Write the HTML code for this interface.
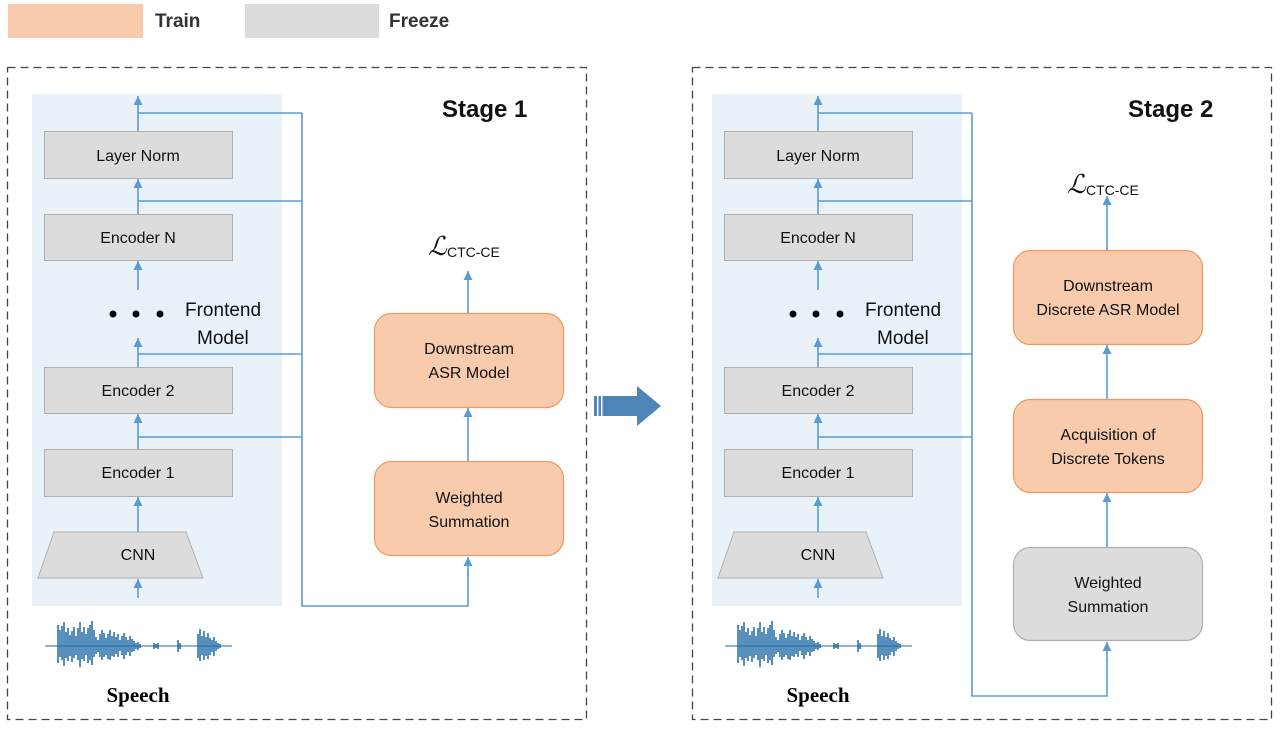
<!DOCTYPE html>
<html><head><meta charset="utf-8"><style>
body{margin:0;background:#fff;}
svg{display:block;}
text{font-family:"Liberation Sans",sans-serif;}
</style></head><body>
<svg width="1280" height="730" viewBox="0 0 1280 730" xmlns="http://www.w3.org/2000/svg">
<defs>
<marker id="ah" markerWidth="10" markerHeight="10" refX="9" refY="4.5" orient="auto" markerUnits="userSpaceOnUse">
<path d="M0,0 L9,4.5 L0,9 Z" fill="#5b9bd5"/>
</marker>
</defs>
<!-- legend -->
<rect x="8" y="4" width="135" height="34" fill="#f8cbad"/>
<text x="155" y="27" font-size="19" font-weight="bold" fill="#333">Train</text>
<rect x="245" y="4" width="134" height="34" fill="#dcdcdc"/>
<text x="389" y="27" font-size="19" font-weight="bold" fill="#333">Freeze</text>

<!-- panels -->
<rect x="7.5" y="67.5" width="579" height="652" fill="none" stroke="#444" stroke-width="1.3" stroke-dasharray="8,5"/>
<rect x="692.5" y="67.5" width="579" height="652" fill="none" stroke="#444" stroke-width="1.3" stroke-dasharray="8,5"/>

<!-- big arrow -->
<rect x="594" y="396" width="44" height="20" fill="#4f86ba"/>
<rect x="597" y="396" width="1.5" height="20" fill="#fff"/>
<rect x="601" y="396" width="1.5" height="20" fill="#fff"/>
<path d="M637,386 L661,406 L637,426 Z" fill="#4f86ba"/>

<g id="front">
<rect x="32" y="94" width="250" height="512" fill="#e9f1f9"/>
<g fill="#dcdcdc" stroke="#b0b0b0" stroke-width="1">
<rect x="44.5" y="131.5" width="188" height="47"/>
<rect x="44.5" y="214.5" width="188" height="46"/>
<rect x="44.5" y="367.5" width="188" height="46"/>
<rect x="44.5" y="449.5" width="188" height="47"/>
<path d="M54,532 L186,532 L203,578 L38,578 Z"/>
</g>
<g font-size="16" fill="#111" text-anchor="middle">
<text x="138" y="161">Layer Norm</text>
<text x="138" y="243">Encoder N</text>
<text x="138" y="396">Encoder 2</text>
<text x="138" y="478">Encoder 1</text>
<text x="138" y="560">CNN</text>
</g>
<g stroke="#5b9bd5" stroke-width="1.6" fill="none">
<line x1="138" y1="598" x2="138" y2="579" marker-end="url(#ah)"/>
<line x1="138" y1="532" x2="138" y2="497" marker-end="url(#ah)"/>
<line x1="138" y1="449" x2="138" y2="414" marker-end="url(#ah)"/>
<line x1="138" y1="367" x2="138" y2="338" marker-end="url(#ah)"/>
<line x1="138" y1="290" x2="138" y2="261" marker-end="url(#ah)"/>
<line x1="138" y1="214" x2="138" y2="179" marker-end="url(#ah)"/>
<line x1="138" y1="131" x2="138" y2="96" marker-end="url(#ah)"/>
</g>
<circle cx="113" cy="314" r="3.5" fill="#000"/><circle cx="136" cy="314" r="3.5" fill="#000"/><circle cx="160" cy="314" r="3.5" fill="#000"/>
<text x="185" y="316" font-size="19" fill="#111">Frontend</text>
<text x="197" y="344" font-size="19" fill="#111">Model</text>
<!-- waveform -->
<g stroke="#1f6aa5" stroke-width="1.5">
<line x1="45" y1="646" x2="232" y2="646" stroke-width="1"/>
<line x1="58" y1="649" x2="58" y2="651" stroke-width="1"/>
<path d="M58,625V663M60,630V657M62,626V660M64,622V666M66,632V658M68,628V661M70,635V656M72,631V662M74,627V658M76,636V655M78,628V660M80,622V667M82,632V659M84,627V661M86,634V655M88,628V663M90,625V660M92,621V665M94,630V657M96,637V654M98,640V652M100,634V657M102,630V660M104,633V657M106,638V655M108,634V659M110,630V660M112,636V656M114,632V657M116,637V654M118,634V657M120,640V651M122,636V655M124,633V659M126,637V655M128,640V652M130,636V656M132,639V652M134,641V651M136,643V649M138,642V650M140,644V648M154,643V649M156,644V648M158,643V649M178,640V652M180,643V649M198,634V658M200,629V661M202,636V655M204,631V660M206,637V656M208,633V659M210,638V655M212,640V652M214,637V656M216,641V651M218,643V649M220,644V648"/>
</g>
<text x="138" y="702" font-size="21" font-weight="bold" text-anchor="middle" fill="#000" style="font-family:'Liberation Serif',serif">Speech</text>
</g>
<use href="#front" x="680" y="0"/>

<!-- stage 1 right -->
<text x="442" y="117" font-size="24" font-weight="bold" fill="#111">Stage 1</text>
<g stroke="#5b9bd5" stroke-width="1.6" fill="none">
<path d="M138,113 H302 M138,201 H302 M138,354 H302 M138,437 H302"/>
<path d="M302,113 V606 H468 V570"/>
<line x1="468" y1="575" x2="468" y2="557" marker-end="url(#ah)"/>
<line x1="468" y1="461" x2="468" y2="408" marker-end="url(#ah)"/>
<line x1="468" y1="313" x2="468" y2="271" marker-end="url(#ah)"/>
</g>
<g fill="#f8cbad" stroke="#ed9a5e" stroke-width="1.2">
<rect x="374.5" y="313.5" width="189" height="94" rx="17"/>
<rect x="374.5" y="461.5" width="189" height="94" rx="17"/>
</g>
<g font-size="16" fill="#111" text-anchor="middle">
<text x="469" y="354">Downstream</text><text x="469" y="378">ASR Model</text>
<text x="469" y="503">Weighted</text><text x="469" y="527">Summation</text>
</g>
<text x="428" y="255" font-size="26" font-style="italic" fill="#111" style="font-family:'Liberation Serif',serif">ℒ</text>
<text x="447" y="257" font-size="14" fill="#111">CTC-CE</text>

<!-- stage 2 right -->
<text x="1128" y="117" font-size="24" font-weight="bold" fill="#111">Stage 2</text>
<g stroke="#5b9bd5" stroke-width="1.6" fill="none">
<path d="M818,113 H972 M818,201 H972 M818,354 H972 M818,437 H972"/>
<path d="M972,113 V696 H1107 V660"/>
<line x1="1107" y1="662" x2="1107" y2="642" marker-end="url(#ah)"/>
<line x1="1107" y1="547" x2="1107" y2="493" marker-end="url(#ah)"/>
<line x1="1107" y1="399" x2="1107" y2="345" marker-end="url(#ah)"/>
<line x1="1107" y1="250" x2="1107" y2="196" marker-end="url(#ah)"/>
</g>
<rect x="1013.5" y="547.5" width="189" height="93" rx="17" fill="#dcdcdc" stroke="#b0b0b0" stroke-width="1.2"/>
<g fill="#f8cbad" stroke="#ed9a5e" stroke-width="1.2">
<rect x="1013.5" y="399.5" width="189" height="93" rx="17"/>
<rect x="1013.5" y="250.5" width="189" height="94" rx="17"/>
</g>
<g font-size="16" fill="#111" text-anchor="middle">
<text x="1108" y="291">Downstream</text><text x="1108" y="315">Discrete ASR Model</text>
<text x="1108" y="440">Acquisition of</text><text x="1108" y="464">Discrete Tokens</text>
<text x="1108" y="588">Weighted</text><text x="1108" y="612">Summation</text>
</g>
<text x="1067" y="193" font-size="26" font-style="italic" fill="#111" style="font-family:'Liberation Serif',serif">ℒ</text>
<text x="1086" y="195" font-size="14" fill="#111">CTC-CE</text>
</svg>
</body></html>
